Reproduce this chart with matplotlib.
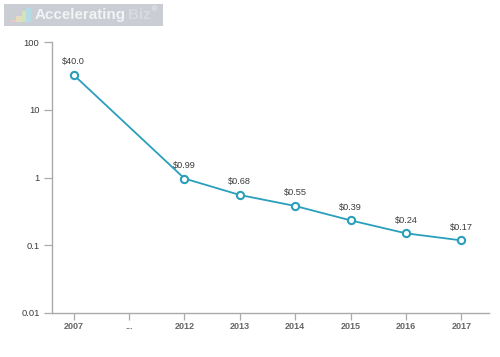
import matplotlib
matplotlib.use("Agg")
import matplotlib.pyplot as plt
from matplotlib.patches import Rectangle

categories = ["2007", "...", "2012", "2013", "2014", "2015", "2016", "2017"]
positions = [0, 2, 3, 4, 5, 6, 7]
values = [32.6, 0.966, 0.552, 0.38, 0.233, 0.15, 0.118]
labels = ["$40.0", "$0.99", "$0.68", "$0.55", "$0.39", "$0.24", "$0.17"]
yticks = [100, 10, 1, 0.1, 0.01]
yticklabels = ["100", "10", "1", "0.1", "0.01"]

W, H = 500, 357
plt.rcParams["font.family"] = ["Liberation Sans", "DejaVu Sans"]
fig = plt.figure(figsize=(W / 100, H / 100), dpi=100)
ax = fig.add_axes([52 / W, 1 - 313 / H, (489 - 52) / W, (313 - 42) / H])
ax.set_yscale("log")
ax.set_ylim(0.01, 100)
ax.set_xlim(-0.392, 7.50)
ax.plot(positions, values, color="#2a9fbc", lw=1.3, marker="o", ms=5.2,
        mfc="white", mec="#2a9fbc", mew=1.5, clip_on=False, zorder=3)
for x, y, t in zip(positions, values, labels):
    ax.annotate(t, (x, y), xytext=(0, 6.2), textcoords="offset points",
                ha="center", va="bottom", fontsize=6.6, color="#3c3c3c")
ax.set_xticks(range(len(categories)))
ax.set_xticklabels(categories, fontsize=6.5, fontweight="bold", color="#666666")
ax.set_yticks(yticks)
ax.set_yticklabels(yticklabels, fontsize=6.8, color="#3c3c3c")
ax.minorticks_off()
ax.tick_params(axis="x", length=5, width=0.9, color="#aaaaaa", pad=1.5, direction="out")
ax.tick_params(axis="y", length=6, width=0.9, color="#aaaaaa", pad=3, direction="out")
for s in ("top", "right"):
    ax.spines[s].set_visible(False)
for s in ("left", "bottom"):
    ax.spines[s].set_color("#aaaaaa")
    ax.spines[s].set_linewidth(1.0)

# Logo banner
def px_rect(x, y, w, h, color):
    fig.add_artist(Rectangle((x / W, 1 - (y + h) / H), w / W, h / H,
                             transform=fig.transFigure, color=color, lw=0))
px_rect(4, 4, 159, 22, "#cacdd3")
px_rect(10, 20, 8, 2, "#e8c8c8")
px_rect(16, 16, 6, 6, "#e6dcc0")
px_rect(22, 11, 4, 11, "#d5e3b8")
px_rect(26, 8, 5, 14, "#b5dbe6")
fig.text(35 / W, 1 - 15 / H, "Accelerating", fontsize=10.9, fontweight="bold",
         color="#f2f3f5", va="center", ha="left")
fig.text(128 / W, 1 - 15 / H, "Biz", fontsize=10.9, fontweight="bold",
         color="#d8dade", va="center", ha="left")
fig.text(152 / W, 1 - 10 / H, "®", fontsize=5, color="#f2f3f5", va="center", ha="left")
fig.savefig("out.png", dpi=100)
